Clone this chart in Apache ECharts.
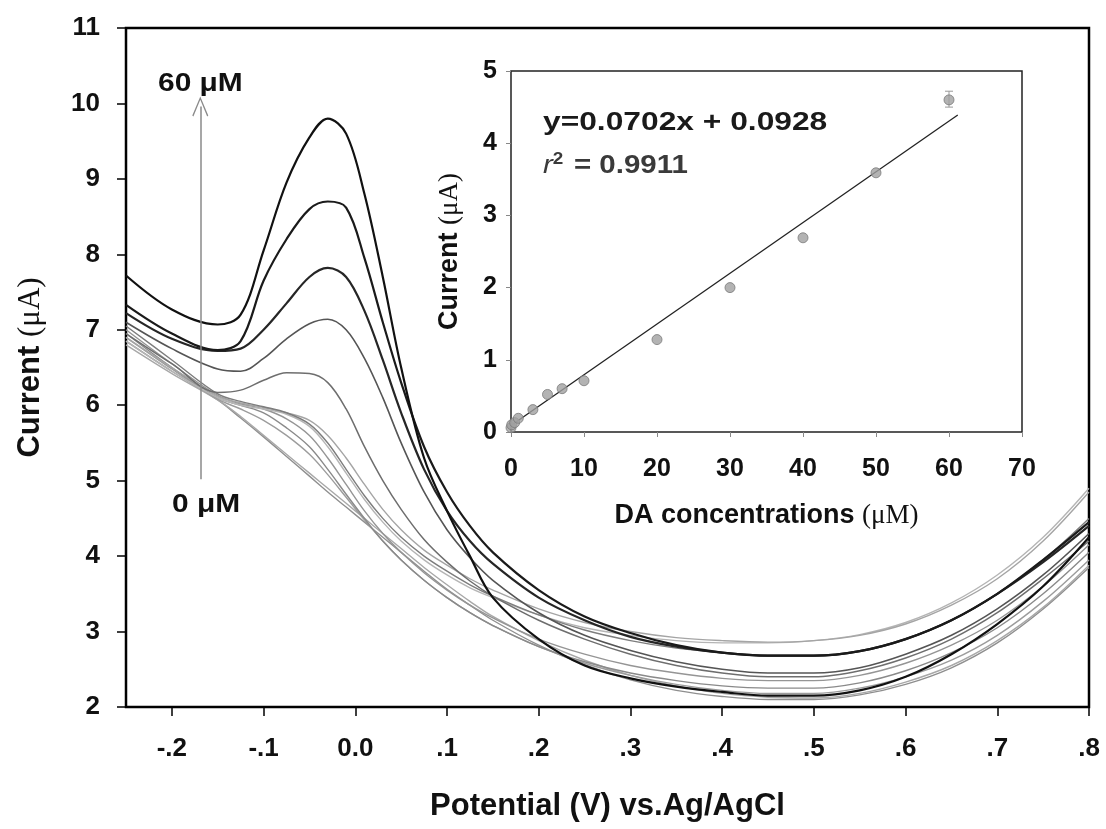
<!DOCTYPE html>
<html>
<head>
<meta charset="utf-8">
<script src="https://cdn.jsdelivr.net/npm/echarts@6/dist/echarts.min.js"></script>
<style>
  html, body { margin: 0; padding: 0; background: #fff; }
  #main { width: 1106px; height: 829px; }
</style>
</head>
<body>
<div id="main"></div>
<script>
// 电位 (V) - shared x values for all voltammograms
var potential = [-0.25, -0.2, -0.15, -0.125, -0.1, -0.075, -0.05, -0.03, -0.01, 0.01, 0.03, 0.05, 0.075, 0.1,
                 0.125, 0.15, 0.2, 0.25, 0.3, 0.35, 0.4, 0.45, 0.5, 0.55, 0.6, 0.65, 0.7, 0.75, 0.8];

// current (uA) for each DA concentration
var cur60 = [7.72, 7.27, 7.07, 7.2, 8.05, 8.95, 9.55, 9.8, 9.6, 8.8, 7.7, 6.5, 5.3, 4.6, 4.0, 3.45, 2.9, 2.55, 2.38, 2.27, 2.2, 2.15, 2.15, 2.22, 2.4, 2.7, 3.1, 3.6, 4.25];
var cur50 = [7.33, 6.95, 6.73, 6.85, 7.65, 8.2, 8.6, 8.7, 8.62, 7.95, 7.1, 6.3, 5.45, 4.85, 4.4, 4.05, 3.55, 3.2, 2.98, 2.82, 2.72, 2.68, 2.68, 2.74, 2.9, 3.15, 3.5, 3.95, 4.45];
var cur40 = [7.22, 6.88, 6.72, 6.75, 7.0, 7.35, 7.7, 7.82, 7.7, 7.25, 6.6, 5.9, 5.15, 4.6, 4.2, 3.9, 3.45, 3.15, 2.93, 2.8, 2.72, 2.68, 2.68, 2.74, 2.9, 3.15, 3.5, 3.92, 4.4];
var cur30 = [7.1, 6.75, 6.48, 6.45, 6.62, 6.88, 7.08, 7.14, 7.0, 6.62, 6.1, 5.5, 4.85, 4.35, 3.98, 3.68, 3.25, 2.95, 2.75, 2.6, 2.5, 2.45, 2.45, 2.52, 2.7, 2.95, 3.3, 3.75, 4.3];
var cur20 = [6.95, 6.55, 6.17, 6.2, 6.33, 6.43, 6.42, 6.3, 5.95, 5.45, 5.0, 4.62, 4.22, 3.92, 3.67, 3.47, 3.15, 2.9, 2.7, 2.55, 2.45, 2.4, 2.4, 2.48, 2.65, 2.9, 3.25, 3.7, 4.2];
var cur10 = [7.05, 6.6, 6.15, 6.05, 5.98, 5.9, 5.75, 5.5, 5.15, 4.8, 4.5, 4.25, 4.0, 3.8, 3.62, 3.47, 3.22, 3.02, 2.88, 2.78, 2.72, 2.68, 2.68, 2.74, 2.9, 3.15, 3.5, 3.95, 4.5];
var cur7 = [6.9, 6.5, 6.12, 6.03, 5.97, 5.9, 5.8, 5.6, 5.3, 4.95, 4.62, 4.35, 4.08, 3.88, 3.7, 3.55, 3.3, 3.12, 3.0, 2.92, 2.88, 2.86, 2.88, 2.95, 3.1, 3.35, 3.7, 4.2, 4.85];
var cur5 = [6.85, 6.45, 6.1, 6.0, 5.95, 5.88, 5.72, 5.45, 5.1, 4.75, 4.45, 4.2, 3.95, 3.75, 3.58, 3.45, 3.22, 3.05, 2.95, 2.88, 2.85, 2.85, 2.88, 2.96, 3.12, 3.38, 3.75, 4.25, 4.9];
var cur3 = [7.0, 6.55, 6.13, 6.02, 5.95, 5.82, 5.6, 5.3, 4.95, 4.6, 4.3, 4.05, 3.78, 3.55, 3.35, 3.18, 2.9, 2.7, 2.55, 2.45, 2.38, 2.35, 2.35, 2.42, 2.58, 2.82, 3.15, 3.6, 4.15];
var cur1 = [6.95, 6.5, 6.1, 6.0, 5.9, 5.7, 5.45, 5.15, 4.82, 4.5, 4.2, 3.95, 3.68, 3.45, 3.25, 3.08, 2.8, 2.6, 2.45, 2.35, 2.28, 2.25, 2.25, 2.32, 2.48, 2.72, 3.05, 3.5, 4.05];
var cur05 = [6.9, 6.48, 6.08, 5.95, 5.8, 5.6, 5.35, 5.08, 4.78, 4.48, 4.2, 3.95, 3.68, 3.45, 3.25, 3.08, 2.8, 2.58, 2.42, 2.3, 2.22, 2.18, 2.18, 2.25, 2.4, 2.62, 2.95, 3.4, 3.95];
var cur01 = [6.8, 6.42, 6.07, 5.85, 5.6, 5.35, 5.1, 4.9, 4.7, 4.5, 4.3, 4.1, 3.85, 3.62, 3.4, 3.2, 2.88, 2.62, 2.42, 2.28, 2.18, 2.13, 2.12, 2.18, 2.33, 2.55, 2.88, 3.32, 3.88];
var cur0 = [6.85, 6.45, 6.07, 5.83, 5.58, 5.32, 5.06, 4.85, 4.65, 4.45, 4.25, 4.05, 3.8, 3.56, 3.35, 3.15, 2.82, 2.56, 2.36, 2.22, 2.14, 2.1, 2.1, 2.16, 2.3, 2.52, 2.85, 3.3, 3.85];

// x tick labels of the main plot
var xTickValues = [-0.2, -0.1, 0, 0.1, 0.2, 0.3, 0.4, 0.5, 0.6, 0.7, 0.8];
var xTickLabels = ['-.2', '-.1', '0.0', '.1', '.2', '.3', '.4', '.5', '.6', '.7', '.8'];

// inset: calibration plot
var daConc = [0, 0.1, 0.5, 1, 3, 5, 7, 10, 20, 30, 40, 50, 60];
var daCurrent = [0.06, 0.1, 0.13, 0.19, 0.31, 0.52, 0.6, 0.71, 1.28, 2.0, 2.69, 3.59, 4.6];
var errBars = [[60, 4.5, 4.72]];
var fitLine = [[0, 0.09], [61.2, 4.39]];

var FONT = '"Liberation Sans", Arial, sans-serif';
var SERIF = '"Liberation Serif", "Times New Roman", serif';

function zip(xs, ys) {
    return xs.map(function (x, i) { return [x, ys[i]]; });
}

// 曲线：从低浓度(灰)到高浓度(黑)
var curves = [
    {name: '0', data: cur0, color: '#8f8f8f', width: 1.4},
    {name: '0.1', data: cur01, color: '#a8a8a8', width: 1.4},
    {name: '0.5', data: cur05, color: '#9c9c9c', width: 1.4},
    {name: '1', data: cur1, color: '#8a8a8a', width: 1.4},
    {name: '3', data: cur3, color: '#959595', width: 1.4},
    {name: '5', data: cur5, color: '#b5b5b5', width: 1.4},
    {name: '7', data: cur7, color: '#a5a5a5', width: 1.4},
    {name: '10', data: cur10, color: '#7d7d7d', width: 1.4},
    {name: '20', data: cur20, color: '#6e6e6e', width: 1.5},
    {name: '30', data: cur30, color: '#555555', width: 1.6},
    {name: '40', data: cur40, color: '#262626', width: 2.2},
    {name: '50', data: cur50, color: '#1a1a1a', width: 2.2},
    {name: '60', data: cur60, color: '#111111', width: 2.2}
];

var series = curves.map(function (c) {
    return {
        name: c.name + ' μM',
        type: 'line',
        xAxisIndex: 0,
        yAxisIndex: 0,
        smooth: 0.35,
        showSymbol: false,
        lineStyle: {color: c.color, width: c.width},
        data: zip(potential, c.data),
        z: 2
    };
});

// 箭头 (0 μM -> 60 μM)
series.push({
    type: 'line',
    xAxisIndex: 0,
    yAxisIndex: 0,
    data: [],
    markLine: {
        silent: true,
        symbol: ['none', 'path://M0,0 L10,18 L8.6,18.8 L0,3.2 L-8.6,18.8 L-10,18 Z'],
        symbolSize: [16, 20],
        label: {show: false},
        lineStyle: {color: '#8a8a8a', width: 1.5, type: 'solid'},
        data: [[{coord: [-0.169, 5.02]}, {coord: [-0.169, 9.96]}]]
    },
    z: 1
});

// inset series
series.push({
    type: 'line',
    xAxisIndex: 1,
    yAxisIndex: 1,
    showSymbol: false,
    lineStyle: {color: '#222', width: 1.3},
    data: fitLine,
    z: 5
});
series.push({
    type: 'scatter',
    xAxisIndex: 1,
    yAxisIndex: 1,
    symbolSize: 10,
    itemStyle: {color: '#a0a0a0', borderColor: '#7a7a7a', borderWidth: 1},
    data: zip(daConc, daCurrent),
    z: 6
});
series.push({
    type: 'custom',
    xAxisIndex: 1,
    yAxisIndex: 1,
    data: errBars,
    z: 6,
    renderItem: function (params, api) {
        var lo = api.coord([api.value(0), api.value(1)]);
        var hi = api.coord([api.value(0), api.value(2)]);
        var st = {stroke: '#999', lineWidth: 1};
        return {
            type: 'group',
            children: [
                {type: 'line', shape: {x1: lo[0], y1: lo[1], x2: hi[0], y2: hi[1]}, style: st},
                {type: 'line', shape: {x1: lo[0] - 4, y1: lo[1], x2: lo[0] + 4, y2: lo[1]}, style: st},
                {type: 'line', shape: {x1: hi[0] - 4, y1: hi[1], x2: hi[0] + 4, y2: hi[1]}, style: st}
            ]
        };
    }
});

var myChart = echarts.init(document.getElementById('main'));

var option = {
    animation: false,
    backgroundColor: '#fff',
    grid: [
        {left: 126, top: 28, right: 17, bottom: 122, show: true, borderColor: '#000', borderWidth: 2.5, backgroundColor: 'transparent'},
        {left: 511, top: 71, right: 84, bottom: 397, show: true, borderColor: '#222', borderWidth: 1.5, backgroundColor: 'transparent'}
    ],
    xAxis: [
        {
            gridIndex: 0,
            type: 'value',
            min: -0.25,
            max: 0.8,
            name: 'Potential (V) vs.Ag/AgCl',
            nameLocation: 'middle',
            nameGap: 84,
            nameTextStyle: {fontFamily: FONT, fontWeight: 'bold', fontSize: 31, color: '#111'},
            axisLine: {show: false, onZero: false},
            axisTick: {show: true, inside: false, length: 9, customValues: xTickValues, lineStyle: {color: '#000', width: 1.5}},
            axisLabel: {
                customValues: xTickValues,
                margin: 29,
                fontFamily: FONT, fontWeight: 'bold', fontSize: 26, color: '#111',
                formatter: function (v) {
                    var i = xTickValues.findIndex(function (t) { return Math.abs(t - v) < 1e-6; });
                    return i < 0 ? '' : xTickLabels[i];
                }
            },
            splitLine: {show: false}
        },
        {
            gridIndex: 1,
            type: 'value',
            min: 0,
            max: 70,
            interval: 10,
            name: '{b|DA concentrations }{s|(μM)}',
            nameLocation: 'middle',
            nameGap: 70,
            nameTextStyle: {
                rich: {
                    b: {fontFamily: FONT, fontWeight: 'bold', fontSize: 27, color: '#111'},
                    s: {fontFamily: SERIF, fontSize: 27, color: '#111'}
                }
            },
            axisLine: {show: false, onZero: false},
            axisTick: {show: true, length: 5, lineStyle: {color: '#888', width: 1}},
            axisLabel: {margin: 25, fontFamily: FONT, fontWeight: 'bold', fontSize: 25, color: '#111'},
            splitLine: {show: false}
        }
    ],
    yAxis: [
        {
            gridIndex: 0,
            type: 'value',
            min: 2,
            max: 11,
            interval: 1,
            name: '{b|Current }{s|(μA)}',
            nameLocation: 'middle',
            nameGap: 80,
            nameTextStyle: {
                rich: {
                    b: {fontFamily: FONT, fontWeight: 'bold', fontSize: 31, color: '#111'},
                    s: {fontFamily: SERIF, fontSize: 31, color: '#111'}
                }
            },
            axisLine: {show: false, onZero: false},
            axisTick: {show: true, length: 9, lineStyle: {color: '#000', width: 1.5}},
            axisLabel: {margin: 26, fontFamily: FONT, fontWeight: 'bold', fontSize: 26, color: '#111'},
            splitLine: {show: false}
        },
        {
            gridIndex: 1,
            type: 'value',
            min: 0,
            max: 5,
            interval: 1,
            name: '{b|Current }{s|(μA)}',
            nameLocation: 'middle',
            nameGap: 48,
            nameTextStyle: {
                rich: {
                    b: {fontFamily: FONT, fontWeight: 'bold', fontSize: 27, color: '#111'},
                    s: {fontFamily: SERIF, fontSize: 27, color: '#111'}
                }
            },
            axisLine: {show: false, onZero: false},
            axisTick: {show: true, length: 5, lineStyle: {color: '#888', width: 1}},
            axisLabel: {margin: 14, fontFamily: FONT, fontWeight: 'bold', fontSize: 25, color: '#111'},
            splitLine: {show: false}
        }
    ],
    graphic: [
        {type: 'text', x: 158, y: 84, scaleX: 1.15, style: {text: '60 μM', font: 'bold 26px ' + FONT, fill: '#111', textAlign: 'left', textVerticalAlign: 'middle'}},
        {type: 'text', x: 172, y: 505, scaleX: 1.15, style: {text: '0 μM', font: 'bold 26px ' + FONT, fill: '#111', textAlign: 'left', textVerticalAlign: 'middle'}},
        {type: 'text', x: 543, y: 123, scaleX: 1.27, style: {text: 'y=0.0702x + 0.0928', font: 'bold 25px ' + FONT, fill: '#1a1a1a', textAlign: 'left', textVerticalAlign: 'middle'}},
        {
            type: 'text', x: 543, y: 166, scaleX: 1.18,
            style: {
                text: '{i|r}{p|2}{n| = 0.9911}',
                textAlign: 'left',
                textVerticalAlign: 'middle',
                rich: {
                    i: {font: 'italic 25px ' + FONT, fill: '#3a3a3a'},
                    p: {font: 'bold 16px ' + FONT, fill: '#3a3a3a', verticalAlign: 'top', padding: [0, 2, 12, 0]},
                    n: {font: 'bold 25px ' + FONT, fill: '#3a3a3a'}
                }
            }
        }
    ],
    series: series
};

myChart.setOption(option);
window.addEventListener('resize', function () { myChart.resize(); });
</script>
</body>
</html>
